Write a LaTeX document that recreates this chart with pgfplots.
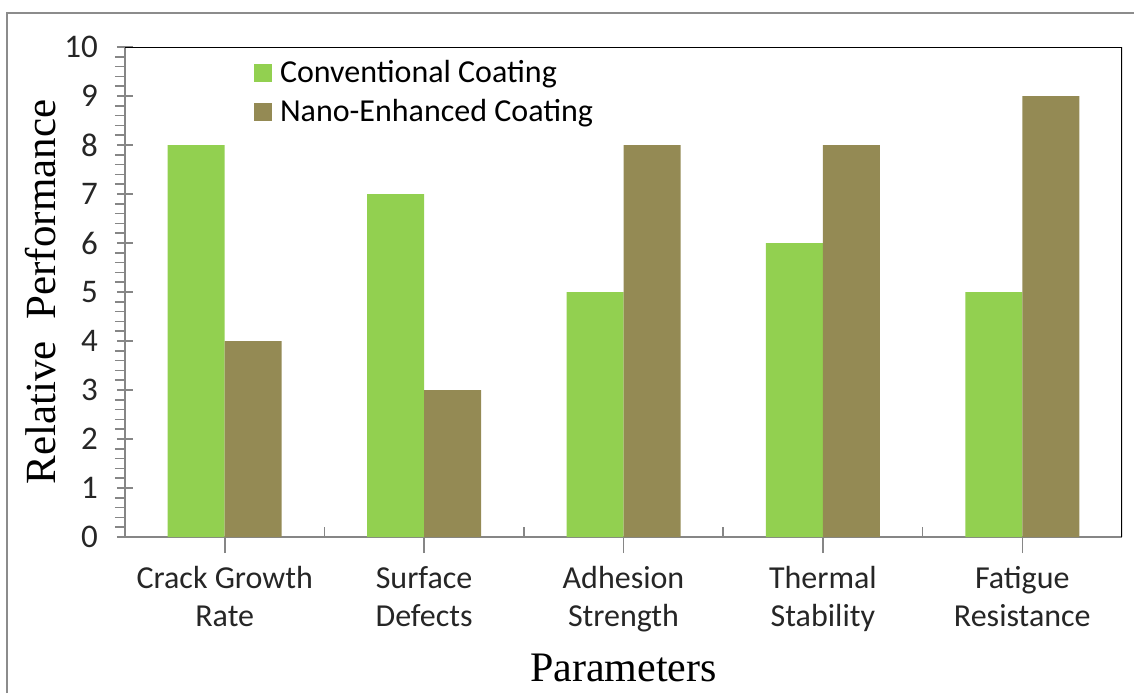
\documentclass[border=0pt]{standalone}
\usepackage{fontspec}
\setmainfont{Carlito}
\newfontfamily\seriffont{Liberation Serif}
\usepackage{pgfplots}
\pgfplotsset{compat=1.18}
\definecolor{conv}{RGB}{146,208,80}
\definecolor{nano}{RGB}{148,138,84}
\definecolor{axgray}{RGB}{134,134,134}
\definecolor{framegray}{RGB}{140,140,140}
\begin{document}
\begin{tikzpicture}
\path[use as bounding box] (0,0) rectangle (567pt,346.5pt);
\draw[framegray, line width=1.2pt] (3.5pt,0) -- (3.5pt,340pt) -- (567pt,340pt);
\begin{axis}[
  at={(62.5pt,78pt)}, anchor=south west,
  scale only axis, width=498.5pt, height=245pt,
  xmin=-0.5, xmax=4.5, ymin=0, ymax=10,
  axis lines*=left,
  axis line style={axgray, line width=0.8pt},
  ybar, bar width=28.5pt,
  tick align=center, major tick length=8pt, minor tick length=5pt,
  tick style={axgray, line width=0.8pt},
  minor y tick style={xshift=-2.5pt},
  major x tick style={yshift=-4pt},
  minor x tick style={yshift=2.5pt},
  minor x tick num=1, minor y tick num=4,
  xtick={0,...,4},
  xticklabels={{Crack Growth\\Rate},{Surface\\Defects},{Adhesion\\Strength},{Thermal\\Stability},{Fatigue\\Resistance}},
  xticklabel style={align=center, font=\fontsize{16}{19}\selectfont, text=black!85, yshift=-7pt},
  ytick={0,...,10},
  yticklabel style={font=\fontsize{16.5}{19}\selectfont, text=black!85, xshift=-6pt},
  /pgf/number format/assume math mode=true,
  xlabel={Parameters},
  xlabel style={font=\seriffont\fontsize{21}{25}\selectfont, at={(axis description cs:0.5,-0.267)}, anchor=center},
  ylabel={Relative\ \ Performance},
  ylabel style={font=\seriffont\fontsize{21.5}{25}\selectfont, at={(axis description cs:-0.085,0.5)}, anchor=center},
  legend style={draw=none, fill=none, at={(0.123,0.99)}, anchor=north west, font=\fontsize{16}{19}\selectfont, row sep=3pt},
  legend cell align=left,
  legend image code/.code={\fill[#1] (0pt,-4.5pt) rectangle (9pt,4.5pt); \path (11pt,0pt);},
]
\addplot[fill=conv, draw=none, bar shift=-14.25pt] coordinates {(0,8) (1,7) (2,5) (3,6) (4,5)};
\addplot[fill=nano, draw=none, bar shift=14.25pt] coordinates {(0,4) (1,3) (2,8) (3,8) (4,9)};
\legend{Conventional Coating, Nano-Enhanced Coating}
\draw[black, line width=1pt] (rel axis cs:0,1) -- (rel axis cs:1,1) -- (rel axis cs:1,0);
\end{axis}
\end{tikzpicture}
\end{document}
